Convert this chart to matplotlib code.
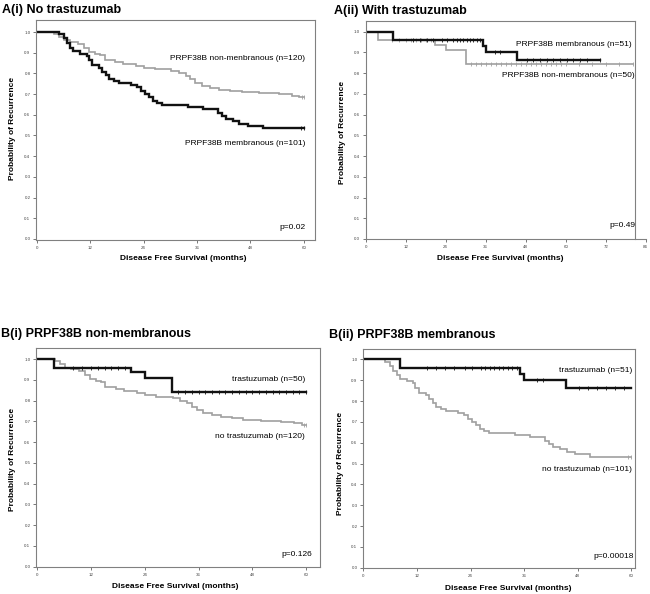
import numpy as np
import matplotlib
matplotlib.use('Agg')
import matplotlib.pyplot as plt

plt.rcParams['font.family'] = ['Liberation Sans', 'DejaVu Sans']

# PRPF38B membranous, no trastuzumab (n=101)
mem_no_t = [0, 4.9, 6.0, 6.7, 7.5, 8.2, 9.7, 11.2, 11.6, 12.4, 13.9, 14.7, 15.5, 16.2, 17.3, 18.5,
            21.1, 22.6, 23.3, 24.2, 25.2, 26.1, 27.0, 28.1, 33.9, 37.3, 40.6, 41.5, 42.5, 44.0,
            45.5, 47.4, 50.8, 60]
mem_no_s = [1.0, 0.989, 0.97, 0.946, 0.925, 0.906, 0.896, 0.886, 0.865, 0.841, 0.828, 0.809, 0.79,
            0.774, 0.761, 0.753, 0.745, 0.734, 0.716, 0.70, 0.684, 0.668, 0.655, 0.646, 0.636,
            0.628, 0.61, 0.595, 0.58, 0.57, 0.556, 0.546, 0.534, 0.534]
mem_no_c = [59.3, 60]

# PRPF38B non-membranous, no trastuzumab (n=120)
non_no_t = [0, 3.9, 5.0, 6.2, 7.5, 9.2, 10.6, 11.8, 13.0, 14.1, 15.2, 17.5, 19.3, 22.3, 24.0, 26.5,
            30.2, 31.9, 33.4, 34.5, 35.6, 37.0, 39.0, 41.0, 43.5, 46.0, 50.0, 54.3, 57.3, 59.0, 60]
non_no_s = [1.0, 0.99, 0.975, 0.96, 0.952, 0.944, 0.925, 0.905, 0.896, 0.888, 0.864, 0.856, 0.845,
            0.836, 0.828, 0.82, 0.812, 0.80, 0.787, 0.772, 0.755, 0.74, 0.73, 0.722, 0.715, 0.709,
            0.704, 0.699, 0.693, 0.685, 0.685]
non_no_c = [59.5, 60]

# PRPF38B membranous, trastuzumab (n=51)
mem_tr_t = [0, 8.1, 35.1, 36.0, 45.3, 70.3]
mem_tr_s = [1.0, 0.96, 0.93, 0.90, 0.864, 0.864]
mem_tr_c = [14.3, 16.3, 18.3, 20.3, 22.8, 24.3, 26.3, 27.3, 28.3, 29.3, 30.3, 31.3, 32.3, 33.3,
            34.3, 38.8, 40.3, 48.3, 50.3, 52.3, 54.3, 56.3, 58.3, 60.3, 62.3, 64.3, 66.3, 70.3]

# PRPF38B non-membranous, trastuzumab (n=50)
non_tr_t = [0, 3.8, 20.8, 24.1, 30.0, 80.3]
non_tr_s = [1.0, 0.96, 0.936, 0.91, 0.844, 0.844]
non_tr_c = [8, 10, 12, 13.5, 15, 16.5, 18, 19.5, 31.5, 33, 34.5, 36, 37.5, 39, 40.5, 42, 43.5, 45,
            46.5, 48, 49.5, 51, 52.5, 54, 55.5, 57, 58.5, 60, 64, 68, 72, 76, 80.3]

BLACK = '#111111'
GRAY = '#a0a0a0'
W, H = 650, 594


def km(ax, t, s, cens, color, lw, xmax):
    t = np.array(t, float)
    s = np.array(s, float)
    keep = t < xmax
    tt = np.append(t[keep], min(xmax, t[-1]))
    ss = np.append(s[keep], s[keep][-1])
    ax.step(tt, ss, where='post', color=color, lw=lw, solid_joinstyle='miter')
    c = np.array([x for x in cens if x <= xmax])
    cy = s[np.searchsorted(t, c, side='right') - 1]
    ax.plot(c, cy, ls='none', marker='|', ms=2.4, mew=0.6, color=color)


def style(ax, xlim, ylim, xticks, xl_px, yl_px):
    ax.set_xlim(*xlim)
    ax.set_ylim(*ylim)
    ax.set_xticks(xticks)
    ax.set_yticks(np.arange(0, 1.01, 0.1))
    ax.set_yticklabels(['%.1f' % v for v in np.arange(0, 1.01, 0.1)])
    ax.tick_params(length=2, width=0.6, color='#606060', labelsize=3.2, labelcolor='#444444', pad=2)
    for sp in ax.spines.values():
        sp.set_color('#808080')
        sp.set_linewidth(0.8)
    ax.set_xlabel('Disease Free Survival (months)', fontsize=6, fontweight='bold', va='center')
    ax.set_ylabel('Probability of Recurrence', fontsize=6, fontweight='bold', va='center')
    ax.xaxis.set_label_coords(xl_px[0] / W, 1 - xl_px[1] / H, transform=fig.transFigure)
    ax.yaxis.set_label_coords(yl_px[0] / W, 1 - yl_px[1] / H, transform=fig.transFigure)


def rect(l, t, r, b):
    return [l / W, 1 - b / H, (r - l) / W, (b - t) / H]


fig = plt.figure(figsize=(6.5, 5.94), dpi=100)

# A(i)
ax1 = fig.add_axes(rect(36, 20, 315, 240))
km(ax1, non_no_t, non_no_s, non_no_c, GRAY, 1.2, 60)
km(ax1, mem_no_t, mem_no_s, mem_no_c, BLACK, 1.7, 60)
style(ax1, (-0.2, 62.5), (-0.005, 1.058), range(0, 61, 12), (183, 258), (13, 128))
ax1.text(60.3, 0.874, 'PRPF38B non-menbranous (n=120)', ha='right', va='center', fontsize=6)
ax1.text(60.3, 0.459, 'PRPF38B membranous (n=101)', ha='right', va='center', fontsize=6)
ax1.text(60.3, 0.053, 'p=0.02', ha='right', va='center', fontsize=6)

# A(ii)
ax2 = fig.add_axes(rect(365.7, 21, 645.7, 239))
km(ax2, non_tr_t, non_tr_s, non_tr_c, GRAY, 1.2, 84)
km(ax2, mem_tr_t, mem_tr_s, mem_tr_c, BLACK, 1.7, 84)
style(ax2, (0, 84), (0, 1.0515), range(0, 85, 12), (500, 258), (343, 132))
ax2.spines['right'].set_position(('data', 80.8))
ax2.spines['top'].set_bounds(0, 80.8)
ax2.text(79.9, 0.936, 'PRPF38B membranous (n=51)', ha='right', va='center', fontsize=6)
ax2.text(80.8, 0.787, 'PRPF38B non-membranous (n=50)', ha='right', va='center', fontsize=6)
ax2.text(81, 0.064, 'p=0.49', ha='right', va='center', fontsize=6)

# B(i)
ax3 = fig.add_axes(rect(36, 348, 320, 567))
km(ax3, non_no_t, non_no_s, non_no_c, GRAY, 1.2, 60)
km(ax3, non_tr_t, non_tr_s, non_tr_c, BLACK, 1.7, 60)
style(ax3, (-0.3, 63.1), (-0.0015, 1.054), range(0, 61, 12), (175, 587), (13, 459))
ax3.text(59.8, 0.90, 'trastuzumab (n=50)', ha='right', va='center', fontsize=6)
ax3.text(59.8, 0.627, 'no trastuzumab (n=120)', ha='right', va='center', fontsize=6)
ax3.text(61.4, 0.061, 'p=0.126', ha='right', va='center', fontsize=6)

# B(ii)
ax4 = fig.add_axes(rect(363, 349, 635, 568))
km(ax4, mem_no_t, mem_no_s, mem_no_c, GRAY, 1.2, 60)
km(ax4, mem_tr_t, mem_tr_s, mem_tr_c, BLACK, 1.7, 60)
style(ax4, (-0.1, 60.8), (-0.001, 1.05), range(0, 61, 12), (508, 589), (340, 463))
ax4.text(60.2, 0.949, 'trastuzumab (n=51)', ha='right', va='center', fontsize=6)
ax4.text(60.2, 0.472, 'no trastuzumab (n=101)', ha='right', va='center', fontsize=6)
ax4.text(60.5, 0.053, 'p=0.00018', ha='right', va='center', fontsize=6)

# panel titles
for x, y, s in [(2, 13, 'A(i) No trastuzumab'), (334, 14, 'A(ii) With trastuzumab'),
                (1, 337, 'B(i) PRPF38B non-membranous'), (329, 338, 'B(ii) PRPF38B membranous')]:
    fig.text(x / W, 1 - y / H, s, fontsize=9, fontweight='bold', va='baseline', ha='left')

fig.savefig('out.png', dpi=100)
